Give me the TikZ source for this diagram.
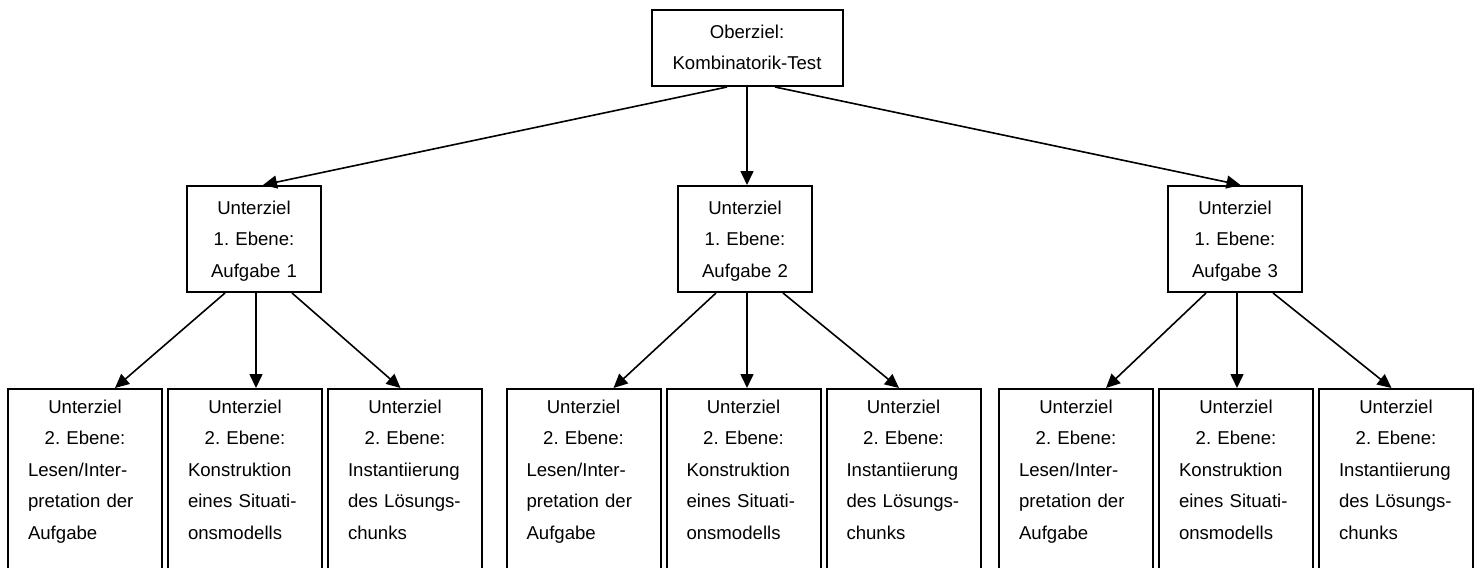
\documentclass[tikz,border=0pt]{standalone}
\usepackage{fontspec}
\setmainfont{Liberation Sans}
\usetikzlibrary{positioning, arrows.meta}
\tikzset{
  goalbox/.style={rectangle, draw, line width=1pt, inner sep=0pt, align=center, anchor=north, font=\fontsize{9.3}{15.75}\selectfont\frenchspacing},
  topgoal/.style={goalbox, text width=95.5pt, text height=14pt, text depth=24pt},
  subgoal/.style={goalbox, text width=67pt, text height=14pt, text depth=39pt},
  leafgoal/.style={goalbox, align=left, inner xsep=10pt, text width=57pt, text height=12pt, text depth=84pt},
  arrow/.style={-{Triangle[length=7pt, width=6.5pt]}, line width=0.8pt},
}
\newcommand{\ctrline}[1]{\makebox[57pt][c]{#1}}

\begin{document}
\begin{tikzpicture}[x=0.5pt, y=-0.5pt]
  \useasboundingbox (0,0) rectangle (1480,568);

  % Oberziel
  \node[topgoal] (top) at (747,9) {Oberziel:\\Kombinatorik-Test};

  % Unterziele 1. Ebene
  \node[subgoal] (auf1) at (254,185) {Unterziel\\1. Ebene:\\Aufgabe 1};
  \node[subgoal] (auf2) at (745,185) {Unterziel\\1. Ebene:\\Aufgabe 2};
  \node[subgoal] (auf3) at (1235,185) {Unterziel\\1. Ebene:\\Aufgabe 3};

  % Unterziele 2. Ebene
  \node[leafgoal] (les1) at (85,388) {\ctrline{Unterziel}\\\ctrline{2. Ebene:}\\Lesen/Inter-\\pretation der\\Aufgabe};
  \node[leafgoal, right=2pt of les1] (kon1) {\ctrline{Unterziel}\\\ctrline{2. Ebene:}\\Konstruktion\\eines Situati-\\onsmodells};
  \node[leafgoal, right=2pt of kon1] (ins1) {\ctrline{Unterziel}\\\ctrline{2. Ebene:}\\Instantiierung\\des Lösungs-\\chunks};

  \node[leafgoal] (les2) at (583.5,388) {\ctrline{Unterziel}\\\ctrline{2. Ebene:}\\Lesen/Inter-\\pretation der\\Aufgabe};
  \node[leafgoal, right=2pt of les2] (kon2) {\ctrline{Unterziel}\\\ctrline{2. Ebene:}\\Konstruktion\\eines Situati-\\onsmodells};
  \node[leafgoal, right=2pt of kon2] (ins2) {\ctrline{Unterziel}\\\ctrline{2. Ebene:}\\Instantiierung\\des Lösungs-\\chunks};

  \node[leafgoal] (les3) at (1076,388) {\ctrline{Unterziel}\\\ctrline{2. Ebene:}\\Lesen/Inter-\\pretation der\\Aufgabe};
  \node[leafgoal, right=2pt of les3] (kon3) {\ctrline{Unterziel}\\\ctrline{2. Ebene:}\\Konstruktion\\eines Situati-\\onsmodells};
  \node[leafgoal, right=2pt of kon3] (ins3) {\ctrline{Unterziel}\\\ctrline{2. Ebene:}\\Instantiierung\\des Lösungs-\\chunks};

  % Pfeile Oberziel -> 1. Ebene
  \draw[arrow] ([xshift=-10pt]top.south) -- ([xshift=4.5pt]auf1.north);
  \draw[arrow] (top.south) -- (top.south |- auf2.north);
  \draw[arrow] ([xshift=14pt]top.south) -- ([xshift=2.75pt]auf3.north);

  % Pfeile 1. Ebene -> 2. Ebene
  \draw[arrow] ([xshift=-14.5pt]auf1.south) -- ([xshift=15pt]les1.north);
  \draw[arrow] ([xshift=1pt]auf1.south) -- ([xshift=1pt]auf1.south |- kon1.north);
  \draw[arrow] ([xshift=19pt]auf1.south) -- ([xshift=-2.25pt]ins1.north);

  \draw[arrow] ([xshift=-14.5pt]auf2.south) -- ([xshift=15pt]les2.north);
  \draw[arrow] ([xshift=1pt]auf2.south) -- ([xshift=1pt]auf2.south |- kon2.north);
  \draw[arrow] ([xshift=19pt]auf2.south) -- ([xshift=-2.25pt]ins2.north);

  \draw[arrow] ([xshift=-14.5pt]auf3.south) -- ([xshift=15pt]les3.north);
  \draw[arrow] ([xshift=1pt]auf3.south) -- ([xshift=1pt]auf3.south |- kon3.north);
  \draw[arrow] ([xshift=19pt]auf3.south) -- ([xshift=-2.25pt]ins3.north);
\end{tikzpicture}
\end{document}
